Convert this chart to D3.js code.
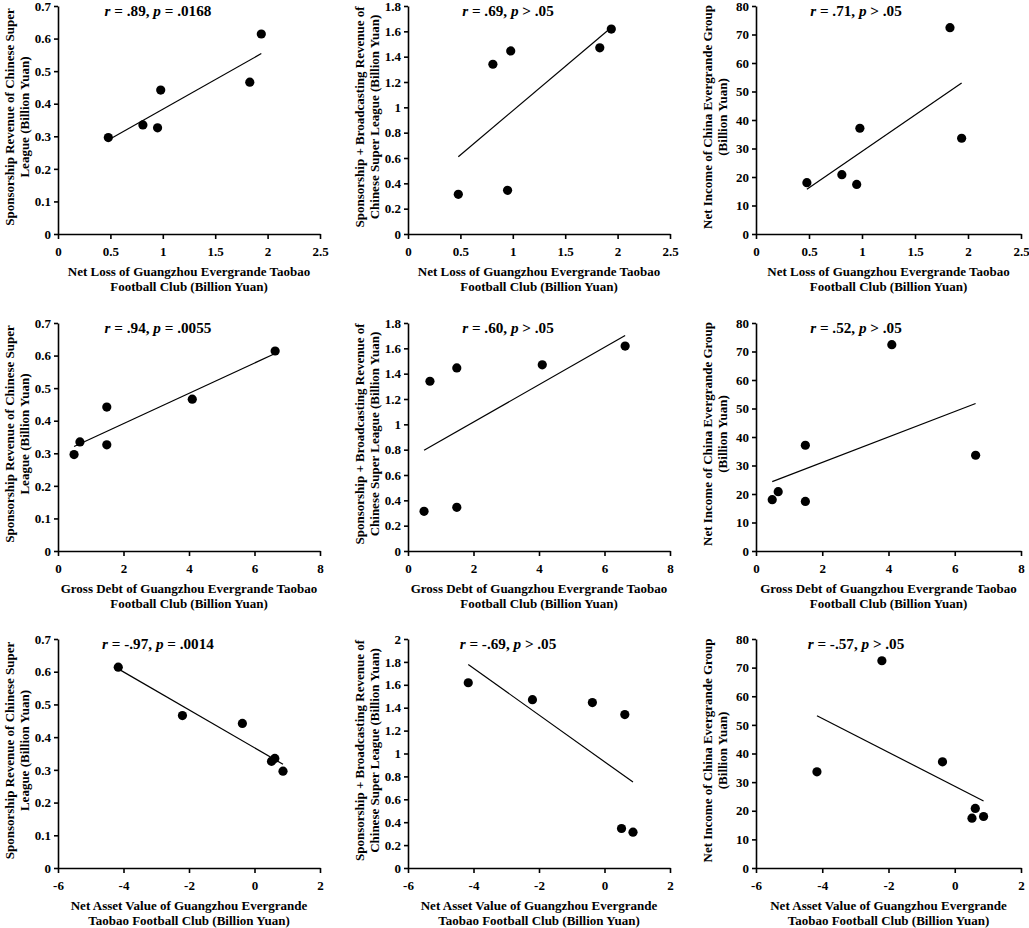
<!DOCTYPE html>
<html>
<head>
<meta charset="utf-8">
<script src="https://cdn.jsdelivr.net/npm/d3@7"></script>
<style>
  body { margin: 0; background: #fff; }
  svg { display: block; }
  text { font-family: "Liberation Serif", "Times New Roman", serif; font-weight: bold; fill: #000; }
  .axis path, .axis line { stroke: #000; stroke-width: 1.6; }
  .axis text { font-size: 13px; }
</style>
</head>
<body>
<div id="chart"></div>
<script>
// Club measures (x), one value per season, same order in every array
const netLoss   = [0.48, 0.81, 0.95, 0.98, 1.83, 1.94];
const grossDebt = [0.49, 0.67, 1.49, 1.49, 4.10, 6.63];
const netAsset  = [0.87, 0.62, 0.52, -0.37, -2.20, -4.16];

// League / group measures (y)
const sponsorship      = [0.296, 0.335, 0.326, 0.442, 0.466, 0.614];
const sponsorBroadcast = [0.313, 1.340, 0.345, 1.445, 1.470, 1.618];
const netIncome        = [18.0, 20.8, 17.4, 37.1, 72.4, 33.6];

// Tick labels
const lossTicks  = [0, 0.5, 1, 1.5, 2, 2.5];
const debtTicks  = [0, 2, 4, 6, 8];
const assetTicks = [-6, -4, -2, 0, 2];
const sponsTicks = [0, 0.1, 0.2, 0.3, 0.4, 0.5, 0.6, 0.7];
const sbTicks18  = [0, 0.2, 0.4, 0.6, 0.8, 1, 1.2, 1.4, 1.6, 1.8];
const sbTicks20  = [0, 0.2, 0.4, 0.6, 0.8, 1, 1.2, 1.4, 1.6, 1.8, 2];
const incomeTicks = [0, 10, 20, 30, 40, 50, 60, 70, 80];

// Axis titles
const xTitles = [
  ["Net Loss of Guangzhou Evergrande Taobao", "Football Club (Billion Yuan)"],
  ["Gross Debt of Guangzhou Evergrande Taobao", "Football Club (Billion Yuan)"],
  ["Net Asset Value of Guangzhou Evergrande", "Taobao Football Club (Billion Yuan)"]
];
const yTitles = [
  ["Sponsorship Revenue of Chinese Super", "League (Billion Yuan)"],
  ["Sponsorship + Broadcasting Revenue of", "Chinese Super League (Billion Yuan)"],
  ["Net Income of China Evergrande Group", "(Billion Yuan)"]
];

// Correlation labels [r, p-relation, p]
const stats = [
  [[".89", "=", ".0168"], [".69", ">", ".05"], [".71", ">", ".05"]],
  [[".94", "=", ".0055"], [".60", ">", ".05"], [".52", ">", ".05"]],
  [["-.97", "=", ".0014"], ["-.69", ">", ".05"], ["-.57", ">", ".05"]]
];

const xSeries = [netLoss, grossDebt, netAsset];
const xTickSets = [lossTicks, debtTicks, assetTicks];
const ySeries = [sponsorship, sponsorBroadcast, netIncome];
const yTickSets = [
  [sponsTicks, sbTicks18, incomeTicks],
  [sponsTicks, sbTicks18, incomeTicks],
  [sponsTicks, sbTicks20, incomeTicks]
];

// Panel layout (pixels)
const colLeft = [58, 408, 756];
const colRight = [320, 670, 1021];
const rowTop = [6, 323, 639];
const rowBottom = [234, 551, 868];

const svg = d3.select("#chart").append("svg")
  .attr("width", 1029)
  .attr("height", 928);

// Least-squares fit for the trend line
function fit(xs, ys) {
  const mx = d3.mean(xs), my = d3.mean(ys);
  const sxy = d3.sum(xs, (v, i) => (v - mx) * (ys[i] - my));
  const sxx = d3.sum(xs, v => (v - mx) * (v - mx));
  const b = sxy / sxx;
  return v => my + b * (v - mx);
}

for (let r = 0; r < 3; r++) {
  for (let c = 0; c < 3; c++) {
    const xs = xSeries[r], ys = ySeries[c];
    const xt = xTickSets[r], yt = yTickSets[r][c];
    const left = colLeft[c], right = colRight[c];
    const top = rowTop[r], bottom = rowBottom[r];

    const x = d3.scaleLinear().domain(d3.extent(xt)).range([left, right]);
    const y = d3.scaleLinear().domain(d3.extent(yt)).range([bottom, top]);

    const g = svg.append("g");

    g.append("g")
      .attr("class", "axis")
      .attr("transform", `translate(0,${bottom})`)
      .call(d3.axisBottom(x).tickValues(xt).tickSize(5).tickSizeOuter(0)
        .tickPadding(8).tickFormat(d => String(d)));

    g.append("g")
      .attr("class", "axis")
      .attr("transform", `translate(${left},0)`)
      .call(d3.axisLeft(y).tickValues(yt).tickSize(4).tickSizeOuter(0)
        .tickPadding(3).tickFormat(d => String(d)));

    // Trend line across the data range
    const f = fit(xs, ys);
    const [x0, x1] = d3.extent(xs);
    g.append("line")
      .attr("x1", x(x0)).attr("y1", y(f(x0)))
      .attr("x2", x(x1)).attr("y2", y(f(x1)))
      .attr("stroke", "#000")
      .attr("stroke-width", 1.2);

    // Points
    g.selectAll(".dot")
      .data(xs.map((v, i) => [v, ys[i]]))
      .enter()
      .append("circle")
      .attr("class", "dot")
      .attr("cx", d => x(d[0]))
      .attr("cy", d => y(d[1]))
      .attr("r", 4.6)
      .attr("fill", "#000");

    // Correlation label
    const s = stats[r][c];
    const lab = g.append("text")
      .attr("x", left + 100)
      .attr("y", top + 10)
      .attr("text-anchor", "middle")
      .style("font-size", "15.2px");
    lab.append("tspan").style("font-style", "italic").text("r");
    lab.append("tspan").text(` = ${s[0]}, `);
    lab.append("tspan").style("font-style", "italic").text("p");
    lab.append("tspan").text(` ${s[1]} ${s[2]}`);

    // X axis title
    const cx = (left + right) / 2;
    xTitles[r].forEach((t, i) => {
      g.append("text")
        .attr("x", cx)
        .attr("y", bottom + 42 + i * 15)
        .attr("text-anchor", "middle")
        .style("font-size", "13px")
        .text(t);
    });

    // Y axis title (rotated)
    const cy = (top + bottom) / 2 - 3;
    yTitles[c].forEach((t, i) => {
      g.append("text")
        .attr("transform", `translate(${left - 44 + i * 15},${cy}) rotate(-90)`)
        .attr("text-anchor", "middle")
        .style("font-size", "13px")
        .text(t);
    });
  }
}
</script>
</body>
</html>
